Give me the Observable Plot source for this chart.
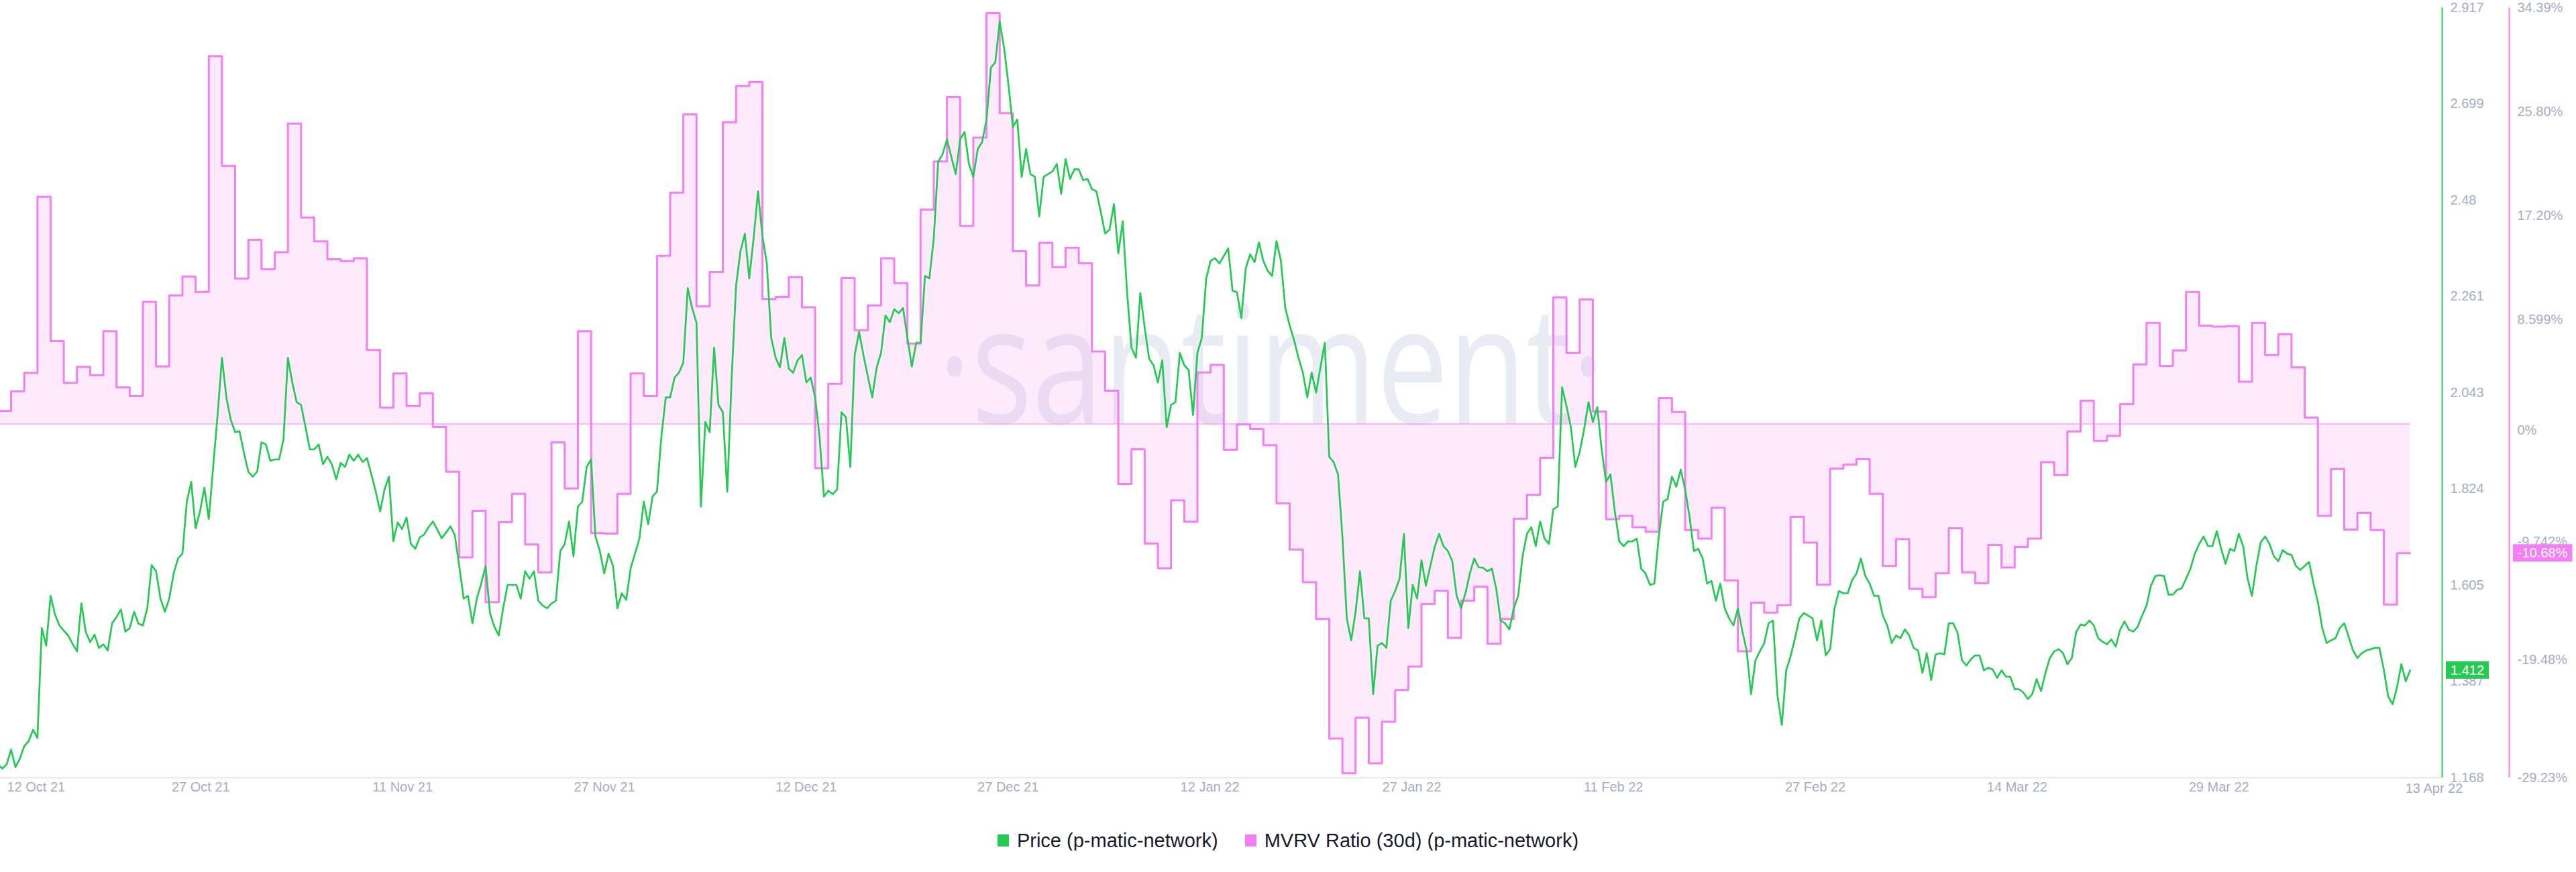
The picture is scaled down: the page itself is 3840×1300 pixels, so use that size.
<!DOCTYPE html>
<html>
<head>
<meta charset="utf-8">
<script src="https://cdn.jsdelivr.net/npm/d3@7"></script>
<script src="https://cdn.jsdelivr.net/npm/@observablehq/plot@0.6"></script>
<style>
  html, body { margin: 0; padding: 0; background: #ffffff; }
  #chart { width: 3840px; }
  .legend { display: flex; justify-content: center; align-items: center; margin-top: 28px; height: 30px;
    font-family: "Liberation Sans", Arial, sans-serif; font-size: 29px; color: #181b2b; }
  .legend .item { display: flex; align-items: center; }
  .legend .item + .item { margin-left: 40px; }
  .legend .sw { width: 17px; height: 18px; margin-right: 12px; }
</style>
</head>
<body>
<div id="chart"></div>
<div class="legend">
  <div class="item"><span class="sw" style="background:#26c953"></span><span>Price (p-matic-network)</span></div>
  <div class="item"><span class="sw" style="background:#f47ff5"></span><span>MVRV Ratio (30d) (p-matic-network)</span></div>
</div>
<script>
// ---- Data ----
// Price, one reading every 8 hours starting 12 Oct 2021 00:00 UTC
const price_12Oct_26Nov = [
1.198,1.189,1.198,1.232,1.192,1.211,1.240,1.251,1.277,1.258,
1.508,1.468,1.581,1.539,1.514,1.502,1.491,1.472,1.455,1.564,
1.499,1.476,1.493,1.463,1.471,1.457,1.519,1.533,1.550,1.500,
1.508,1.545,1.518,1.514,1.553,1.651,1.637,1.575,1.545,1.575,
1.632,1.666,1.677,1.795,1.840,1.735,1.773,1.827,1.756,1.874,
1.992,2.122,2.032,1.981,1.953,1.955,1.906,1.863,1.852,1.863,
1.930,1.925,1.888,1.891,1.891,1.936,2.122,2.066,2.021,2.015,
1.965,1.914,1.914,1.925,1.880,1.897,1.880,1.846,1.883,1.874,
1.902,1.888,1.902,1.885,1.894,1.857,1.818,1.773,1.823,1.852,
1.705,1.748,1.733,1.759,1.699,1.688,1.714,1.720,1.737,1.750,
1.732,1.712,1.725,1.739,1.719,1.649,1.575,1.581,1.519,1.575,
1.609,1.649,1.542,1.511,1.491,1.553,1.606,1.606,1.606,1.575,
1.637,1.620,1.637,1.570,1.559,1.553,1.564,1.570,1.683,1.699,
1.750,1.671,1.784,1.795,1.874,1.891,1.716,1.683];
const price_27Nov_11Jan = [
1.632,1.677,1.649,1.553,1.587,1.572,1.643,1.677,1.711,1.795,
1.744,1.807,1.818,1.942,2.032,2.032,2.077,2.088,2.111,2.280,
2.235,2.201,1.784,1.976,1.953,2.145,2.015,1.998,1.818,2.077,
2.285,2.364,2.404,2.302,2.393,2.500,2.398,2.336,2.167,2.122,
2.100,2.167,2.097,2.088,2.116,2.128,2.066,2.077,2.032,1.942,
1.807,1.820,1.812,1.823,1.998,1.987,1.874,2.128,2.181,2.128,
2.079,2.032,2.100,2.133,2.218,2.203,2.232,2.223,2.235,2.167,
2.102,2.156,2.156,2.308,2.302,2.393,2.567,2.584,2.618,2.578,
2.539,2.618,2.635,2.562,2.533,2.596,2.612,2.663,2.781,2.793,
2.885,2.826,2.742,2.646,2.663,2.533,2.596,2.539,2.533,2.443,
2.533,2.539,2.545,2.562,2.494,2.573,2.528,2.550,2.550,2.525,
2.528,2.505,2.500,2.454,2.404,2.413,2.471,2.359,2.432,2.269,
2.145,2.122,2.269,2.190,2.120,2.105,2.066,2.116,1.964,2.015,
2.021,2.133,2.105,2.094,1.992,2.133,2.167,2.302];
const price_12Jan_26Feb = [
2.342,2.348,2.336,2.353,2.370,2.274,2.271,2.212,2.325,2.357,
2.339,2.384,2.342,2.319,2.308,2.387,2.342,2.235,2.195,2.162,
2.122,2.088,2.032,2.088,2.043,2.100,2.156,1.897,1.885,1.857,
1.716,1.530,1.480,1.545,1.637,1.530,1.530,1.358,1.468,1.474,
1.463,1.570,1.592,1.620,1.722,1.508,1.606,1.575,1.662,1.604,
1.649,1.692,1.722,1.694,1.683,1.660,1.581,1.553,1.587,1.632,
1.666,1.646,1.645,1.637,1.643,1.598,1.525,1.519,1.505,1.553,
1.581,1.671,1.722,1.737,1.694,1.750,1.711,1.699,1.778,1.784,
2.055,2.012,1.964,1.874,1.908,1.959,2.021,1.976,2.010,1.914,
1.840,1.857,1.773,1.705,1.694,1.705,1.705,1.711,1.643,1.632,
1.606,1.609,1.716,1.795,1.801,1.852,1.829,1.868,1.823,1.761,
1.683,1.688,1.666,1.609,1.615,1.570,1.609,1.553,1.530,1.514,
1.553,1.502,1.457,1.358,1.435,1.455,1.474,1.519,1.525,1.356,
1.288,1.412,1.444,1.485,1.530,1.542,1.536];
const price_26Feb_13Apr = [
1.530,1.480,1.525,1.446,1.460,1.553,1.592,1.587,1.587,1.617,
1.632,1.666,1.626,1.609,1.581,1.581,1.536,1.514,1.474,1.491,
1.485,1.505,1.491,1.463,1.457,1.406,1.451,1.390,1.448,1.451,
1.448,1.519,1.519,1.497,1.435,1.423,1.437,1.446,1.446,1.412,
1.418,1.414,1.395,1.412,1.398,1.397,1.369,1.369,1.361,1.347,
1.358,1.392,1.365,1.406,1.440,1.455,1.460,1.451,1.426,1.440,
1.499,1.516,1.514,1.525,1.514,1.485,1.477,1.471,1.482,1.466,
1.504,1.523,1.504,1.500,1.511,1.536,1.559,1.604,1.626,1.628,
1.626,1.584,1.584,1.595,1.598,1.620,1.643,1.677,1.699,1.716,
1.694,1.694,1.728,1.688,1.654,1.688,1.683,1.722,1.694,1.620,
1.581,1.649,1.703,1.716,1.699,1.671,1.660,1.685,1.677,1.674,
1.649,1.640,1.649,1.658,1.609,1.567,1.508,1.474,1.480,1.485,
1.508,1.519,1.488,1.457,1.440,1.451,1.457,1.460,1.463,1.463,
1.414,1.353,1.335,1.373,1.426,1.387,1.412];

// MVRV Ratio (30d), %, one value per day starting 12 Oct 2021
const mvrv_Oct_Nov = [
1.07,2.71,4.22,18.78,6.85,3.40,4.72,4.02,7.67,3.03,
2.30,10.09,4.76,10.62,12.18,10.91,30.38,21.32,12.01,15.21,
12.79,14.19,24.81,17.06,15.09,13.61,13.45,13.69,6.11,1.35,
4.18,1.48,2.54,-0.25,-3.94,-11.03,-7.18,-14.72,-8.12,-5.78,
-9.96,-12.26,-1.52,-5.33,7.67,-9.02,-9.06,-5.78,4.18,2.30,
13.90,19.11,25.58,9.72,12.55,24.93,27.92,28.25,10.33,10.50];
const mvrv_Dec_Jan = [
12.14,9.64,-3.65,3.32,12.05,7.75,9.80,13.69,11.64,6.64,
17.71,21.69,27.02,16.36,23.66,33.95,25.67,14.27,11.44,14.96,
12.96,14.56,13.28,5.99,2.75,-4.96,-2.09,-9.88,-11.93,-6.31,
-8.08,4.26,4.88,-2.13,-0.04,-0.41,-1.76,-6.56,-10.37,-13.08,
-16.11,-25.99,-28.86,-24.27,-28.04,-24.60,-21.98,-20.05,-14.88,-13.78,
-17.67,-14.60,-13.45,-18.16,-16.11,-7.83,-5.86,-2.79,10.46,5.86];
const mvrv_Feb_Apr = [
10.29,1.03,-7.87,-7.59,-8.53,-8.90,2.13,0.98,-8.77,-9.47,
-6.93,-12.92,-18.78,-14.76,-15.58,-14.97,-7.67,-9.80,-13.28,-3.69,
-3.36,-2.91,-5.78,-11.73,-9.51,-13.61,-14.31,-12.34,-8.61,-12.26,
-13.16,-10.00,-11.85,-10.17,-9.47,-3.16,-4.22,-0.62,1.93,-1.39,
-0.98,1.64,4.92,8.36,4.80,6.07,10.91,8.12,8.04,8.08,
3.49,8.36,5.70,7.42,4.67,0.53,-7.59,-3.73,-8.73,-7.34,
-8.77,-14.92,-10.68];

// Axis ticks
const priceTicks = [1.168, 1.387, 1.605, 1.824, 2.043, 2.261, 2.48, 2.699, 2.917];
const mvrvTicks = [34.39, 25.80, 17.20, 8.599, 0, -9.742, -19.48, -29.23];
const mvrvTickLabels = ["34.39%", "25.80%", "17.20%", "8.599%", "0%", "-9.742%", "-19.48%", "-29.23%"];
const xTickLabels = ["12 Oct 21","27 Oct 21","11 Nov 21","27 Nov 21","12 Dec 21","27 Dec 21",
  "12 Jan 22","27 Jan 22","11 Feb 22","27 Feb 22","14 Mar 22","29 Mar 22","13 Apr 22"];

// ---- Build tables ----
const GREEN = "#26c953", PINK = "#f47ff5", TICK = "#a5adc6";
const HOUR = 3600e3, DAY = 24 * HOUR;
const start = Date.UTC(2021, 9, 12);
const price = [...price_12Oct_26Nov, ...price_27Nov_11Jan, ...price_12Jan_26Feb, ...price_26Feb_13Apr];
const priceData = price.map((v, i) => ({date: new Date(start + i * 8 * HOUR), value: v}));
const mvrv = [...mvrv_Oct_Nov, ...mvrv_Dec_Jan, ...mvrv_Feb_Apr];
const mvrvData = mvrv.map((v, i) => ({date: new Date(start + i * DAY), value: v}));
mvrvData.push({date: new Date(start + mvrv.length * DAY), value: mvrv[mvrv.length - 1]});

const priceDomain = [1.168, 2.917];
const mvrvDomain = [-29.23, 34.39];
const toY = d3.scaleLinear(mvrvDomain, priceDomain);

const xDomain = [new Date("2021-10-12T04:28:00Z"), new Date("2022-04-15T10:19:00Z")];
const xTickStart = Date.UTC(2021, 9, 12, 2), xTickStep = 15.31 * DAY;
const xTicks = xTickLabels.map((label, i) => ({date: new Date(xTickStart + i * xTickStep), label}));
const mvrvTickData = mvrvTicks.map((v, i) => ({v, label: mvrvTickLabels[i]}));

const font = {fill: TICK, fontSize: 20};
const first = mvrvData[0].date, last = mvrvData[mvrvData.length - 1].date;

const chart = Plot.plot({
  width: 3840, height: 1210,
  marginLeft: 0, marginRight: 200, marginTop: 11, marginBottom: 51,
  style: {fontFamily: "'Liberation Sans', Arial, sans-serif", background: "#ffffff", overflow: "visible"},
  x: {type: "utc", domain: xDomain, axis: null},
  y: {domain: priceDomain, axis: null},
  marks: [
    Plot.ruleY([priceDomain[0]], {stroke: "#e3e7f0", strokeWidth: 2}),
    Plot.areaY(mvrvData, {x: "date", y1: () => toY(0), y2: d => toY(d.value), curve: "step-after",
      fill: PINK, fillOpacity: 0.16, clip: true}),
    Plot.ruleY([toY(0)], {x1: () => first, x2: () => last, stroke: PINK, strokeWidth: 1, clip: true}),
    Plot.lineY(mvrvData, {x: "date", y: d => toY(d.value), curve: "step-after", stroke: PINK, strokeWidth: 3, clip: true}),
    Plot.lineY(priceData, {x: "date", y: "value", stroke: GREEN, strokeWidth: 2.7, clip: true}),
    Plot.ruleX([xDomain[1]], {stroke: GREEN, strokeWidth: 2}),
    Plot.ruleX([xDomain[1]], {stroke: PINK, strokeWidth: 2, dx: 100}),
    // right axes labels
    Plot.text(priceTicks, {y: d => d, text: d => String(d), frameAnchor: "right", textAnchor: "start", dx: 12, ...font}),
    Plot.text(mvrvTickData.filter(d => d.v !== 0), {y: d => toY(d.v), text: "label", frameAnchor: "right", textAnchor: "start", dx: 112, ...font}),
    Plot.text(mvrvTickData.filter(d => d.v === 0), {y: d => toY(d.v), text: "label", frameAnchor: "right", textAnchor: "start", dx: 112, dy: 10, ...font}),
    // bottom axis labels
    Plot.text(xTicks.slice(0, 1), {x: "date", text: "label", frameAnchor: "bottom", textAnchor: "start", dx: 12, dy: 20, ...font}),
    Plot.text(xTicks.slice(1, 12), {x: "date", text: "label", frameAnchor: "bottom", dy: 20, ...font}),
    Plot.text(xTicks.slice(12), {x: "date", text: "label", frameAnchor: "bottom", dx: 20, dy: 22, ...font})
  ]
});
document.getElementById("chart").appendChild(chart);

// watermark behind the data
const svg = d3.select(chart);
svg.insert("text", "g")
  .attr("x", 1398).attr("y", 632)
  .attr("text-anchor", "start")
  .attr("font-family", "'Open Sans', sans-serif")
  .attr("font-weight", 400)
  .attr("font-size", 245)
  .attr("fill", "#e9ecf5")
  .attr("textLength", 995)
  .attr("lengthAdjust", "spacingAndGlyphs")
  .text("\u00B7santiment\u00B7");

// last-value badges on the right axes, positioned with the plot's scales
const ys = chart.scale("y"), xs = chart.scale("x");
const axisX = xs.apply(xDomain[1]);
function badge(x, yv, label, color) {
  const yy = ys.apply(yv);
  const g = svg.append("g").attr("text-anchor", "start");
  const t = g.append("text").attr("x", x + 7).attr("y", yy).attr("dy", "0.36em")
    .attr("text-anchor", "start")
    .attr("fill", "#ffffff").attr("font-size", 20)
    .attr("font-family", "'Liberation Sans', Arial, sans-serif").text(label);
  const w = t.node().getComputedTextLength();
  g.insert("rect", "text").attr("x", x).attr("y", yy - 13).attr("width", w + 14).attr("height", 26).attr("fill", color);
}
badge(axisX + 6, price[price.length - 1], String(price[price.length - 1]), GREEN);
badge(axisX + 106, toY(mvrv[mvrv.length - 1]), mvrv[mvrv.length - 1].toFixed(2) + "%", PINK);
</script>
</body>
</html>
